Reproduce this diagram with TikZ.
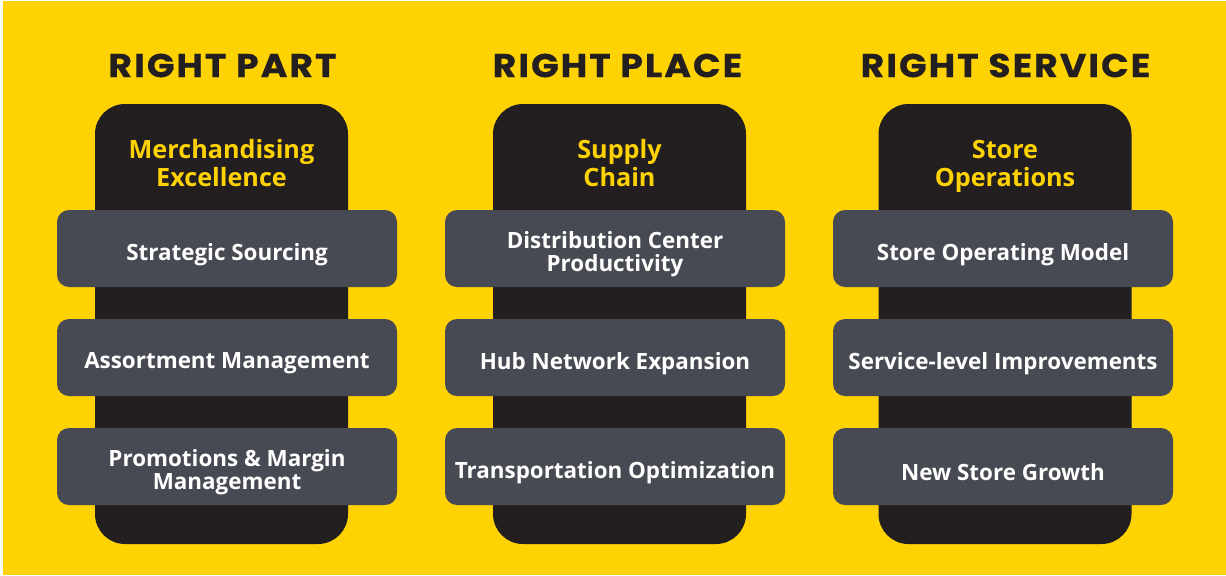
\documentclass[tikz,border=0pt]{standalone}
\usepackage{fontspec}
\setmainfont{Open Sans}
\newfontfamily\titlefont[BoldFeatures={FakeStretch=1.1,LetterSpace=6.0,FakeBold=0.5}]{Poppins}
\begin{document}
\begin{tikzpicture}[x=0.5pt, y=-0.5pt,
    pillar/.style={fill=pillarblack, draw=none, rounded corners=15pt,
        minimum width=126.5pt, minimum height=220pt, inner sep=0pt},
    itembox/.style={fill=boxgrey, draw=none, rounded corners=6pt,
        minimum width=170pt, minimum height=38.5pt, inner sep=0pt},
    itemtext/.style={text=white, align=center, inner sep=0pt, yshift=-3pt,
        font=\bfseries\fontsize{11.2}{11.5}\selectfont},
    heading/.style={text=pillarblack, inner sep=0pt,
        font=\titlefont\bfseries\fontsize{16.5}{18}\selectfont},
    subhead/.style={text=goldtext, align=center, inner sep=0pt, anchor=north,
        font=\bfseries\fontsize{12.6}{14}\selectfont}]
    % ----------- 共用參數 -----------
    \definecolor{bgyellow}{HTML}{FFD204}
    \definecolor{goldtext}{HTML}{FFD204}
    \definecolor{pillarblack}{HTML}{231F20}
    \definecolor{boxgrey}{HTML}{474A53}
    \def\rowA{248.5}   % 第一列方塊
    \def\rowB{357.5}   % 第二列方塊
    \def\rowC{466.5}   % 第三列方塊

    % 背景
    \fill[white] (0,0) rectangle (1226,575);
    \fill[bgyellow] (3,1) rectangle (1226,575);

    % =====================================
    %            左欄:RIGHT PART
    % =====================================
    \node[heading] (headPart) at (222.5,65.5) {RIGHT PART};
    \node[pillar] (pilPart) at (221.5,324) {};
    \node[subhead] (subPart) at (221.5,138.5) {Merchandising\\Excellence};
    \node[itembox] (partA) at (227,\rowA) {};
    \node[itembox] (partB) at (227,\rowB) {};
    \node[itembox] (partC) at (227,\rowC) {};
    \node[itemtext] (partAtxt) at (partA) {Strategic Sourcing};
    \node[itemtext] (partBtxt) at (partB) {Assortment Management};
    \node[itemtext] (partCtxt) at (partC) {Promotions \& Margin\\Management};

    % =====================================
    %            中欄:RIGHT PLACE
    % =====================================
    \node[heading] (headPlace) at (617.5,65.5) {RIGHT PLACE};
    \node[pillar] (pilPlace) at (619.5,324) {};
    \node[subhead] (subPlace) at (619.5,138.5) {Supply\\Chain};
    \node[itembox] (placeA) at (615,\rowA) {};
    \node[itembox] (placeB) at (615,\rowB) {};
    \node[itembox] (placeC) at (615,\rowC) {};
    \node[itemtext] (placeAtxt) at (placeA) {Distribution Center\\Productivity};
    \node[itemtext] (placeBtxt) at (placeB) {Hub Network Expansion};
    \node[itemtext] (placeCtxt) at (placeC) {Transportation Optimization};

    % =====================================
    %            右欄:RIGHT SERVICE
    % =====================================
    \node[heading] (headService) at (1005.5,65.5) {RIGHT SERVICE};
    \node[pillar] (pilService) at (1005,324) {};
    \node[subhead] (subService) at (1005,140) {Store\\Operations};
    \node[itembox] (serviceA) at (1003,\rowA) {};
    \node[itembox] (serviceB) at (1003,\rowB) {};
    \node[itembox] (serviceC) at (1003,\rowC) {};
    \node[itemtext] (serviceAtxt) at (serviceA) {Store Operating Model};
    \node[itemtext] (serviceBtxt) at (serviceB) {Service-level Improvements};
    \node[itemtext] (serviceCtxt) at (serviceC) {New Store Growth};
\end{tikzpicture}
\end{document}
